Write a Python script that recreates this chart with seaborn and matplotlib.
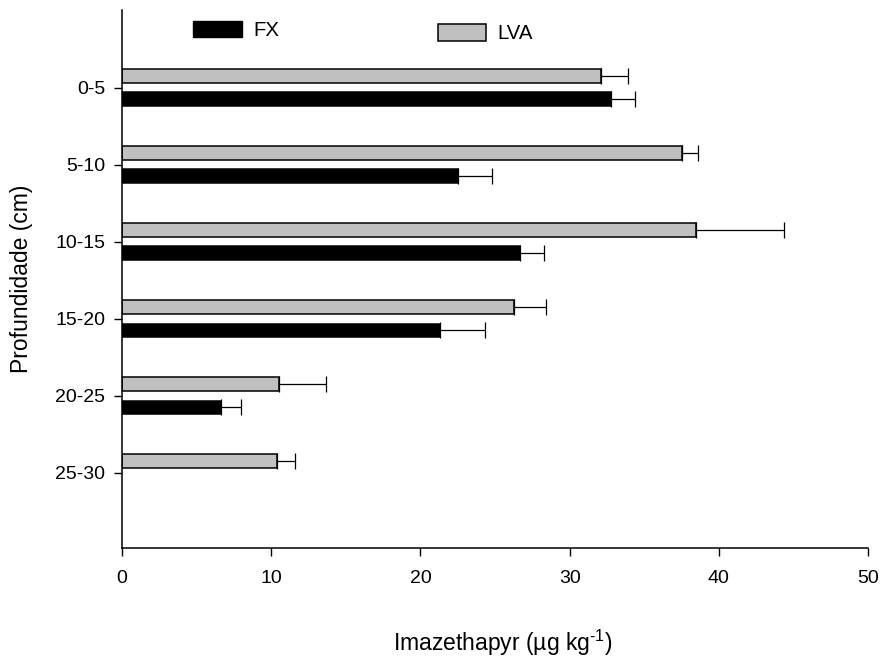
import matplotlib
matplotlib.use("Agg")
import matplotlib.pyplot as plt
from matplotlib.patches import Rectangle
import numpy as np
import pandas as pd
import seaborn as sns

# Soil depth layers and imazethapyr concentration (mean and standard error)
depths = ["0-5", "5-10", "10-15", "15-20", "20-25", "25-30"]
lva_mean = [32.1, 37.5, 38.5, 26.3, 10.55, 10.4]
lva_err = [1.8, 1.1, 5.9, 2.15, 3.15, 1.2]
fx_mean = [32.75, 22.5, 26.65, 21.3, 6.65, np.nan]
fx_err = [1.65, 2.3, 1.65, 3.0, 1.35, np.nan]
soils = ["LVA", "FX"]
x_ticks = [0, 10, 20, 30, 40, 50]

colors = {"LVA": "#c0c0c0", "FX": "#000000"}
errors = {"LVA": lva_err, "FX": fx_err}

sns.set_style("ticks")
plt.rcParams["font.family"] = ["Liberation Sans", "DejaVu Sans"]
plt.rcParams["mathtext.fontset"] = "custom"
plt.rcParams["mathtext.rm"] = "Liberation Sans"
plt.rcParams["mathtext.it"] = "Liberation Sans"
plt.rcParams["text.color"] = "black"
plt.rcParams["axes.labelcolor"] = "black"

df = pd.DataFrame({
    "Profundidade": depths * 2,
    "Solo": ["LVA"] * len(depths) + ["FX"] * len(depths),
    "valor": lva_mean + fx_mean,
}).dropna()

W, H = 881, 662
fig = plt.figure(figsize=(W / 100, H / 100), dpi=100)
ax_left, ax_right, ax_top, ax_bottom = 122, 868, 10, 548
ax = fig.add_axes([ax_left / W, 1 - ax_bottom / H,
                   (ax_right - ax_left) / W, (ax_bottom - ax_top) / H])

sns.barplot(
    data=df, y="Profundidade", x="valor", hue="Solo",
    order=depths, hue_order=soils, palette=colors,
    width=0.6, gap=0.4, orient="h", errorbar=None,
    edgecolor="black", linewidth=1.1, legend=False, ax=ax,
)

# one-sided error bars at the end of each bar
for container, soil in zip(ax.containers, soils):
    for patch in container.patches:
        yc = patch.get_y() + patch.get_height() / 2
        idx = int(round(yc))
        err = errors[soil][idx]
        ax.errorbar(
            patch.get_width(), yc, xerr=[[0], [err]], fmt="none",
            ecolor="black", elinewidth=0.9, capsize=5.8, capthick=0.9,
        )

ax.set_xlim(0, 50)
ax.set_ylim(5.974, -1.01)
ax.set_xticks(x_ticks)
ax.set_xticklabels([str(t) for t in x_ticks])
sns.despine(ax=ax)
for side in ("left", "bottom"):
    ax.spines[side].set_linewidth(1.1)
    ax.spines[side].set_color("black")
ax.tick_params(axis="x", direction="out", length=6, width=1.0, pad=10,
               labelsize=14, colors="black")
ax.tick_params(axis="y", direction="out", length=6, width=1.0, pad=6,
               labelsize=14, colors="black")

ax_w, ax_h = ax_right - ax_left, ax_bottom - ax_top
ax.set_xlabel(r"Imazethapyr (µg kg$^{\text{-}1}$)", fontsize=16.5)
ax.xaxis.label.set_va("center")
ax.xaxis.set_label_coords((503 - ax_left) / ax_w, (ax_bottom - 643) / ax_h)
ax.set_ylabel("Profundidade (cm)", fontsize=16.5)
ax.yaxis.label.set_va("center")
ax.yaxis.set_label_coords((22 - ax_left) / ax_w, 0.5)

# legend swatches placed above the plot
fig.add_artist(Rectangle((193 / W, 1 - 37 / H), 49 / W, 16 / H,
                         transform=fig.transFigure, facecolor="black",
                         edgecolor="black", linewidth=1.0))
fig.text(253 / W, 1 - 30 / H, "FX", fontsize=14.7, va="center", ha="left")
fig.add_artist(Rectangle((438 / W, 1 - 41 / H), 48 / W, 17 / H,
                         transform=fig.transFigure, facecolor="#c0c0c0",
                         edgecolor="black", linewidth=1.1))
fig.text(497 / W, 1 - 33.5 / H, "LVA", fontsize=14.7, va="center", ha="left")

fig.savefig("out.png", dpi=100, facecolor="white")
